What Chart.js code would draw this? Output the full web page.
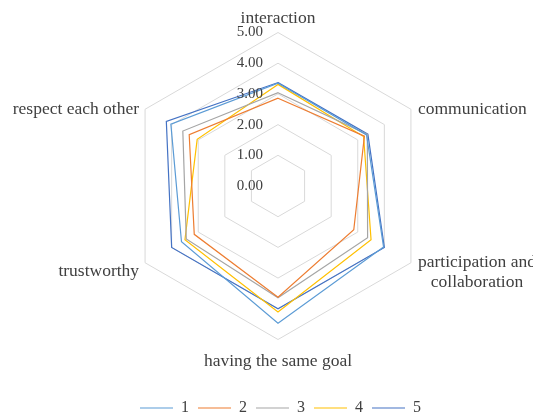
<!DOCTYPE html>
<html>
<head>
<meta charset="utf-8">
<script src="https://cdn.jsdelivr.net/npm/chart.js@4.4.0/dist/chart.umd.min.js"></script>
<style>
  html, body { margin: 0; padding: 0; background: #fff; }
</style>
</head>
<body>
<canvas id="myChart" width="533" height="416"></canvas>
<script>
// categories (axes of the radar)
var categories = ['interaction', 'communication', ['participation and', 'collaboration'], 'having the same goal', 'trustworthy', 'respect each other'];

// series values
var series1 = [3.35, 3.33, 3.97, 4.47, 3.63, 4.03];
var series2 = [2.86, 3.25, 2.85, 3.62, 3.15, 3.34];
var series3 = [3.04, 3.36, 3.37, 3.64, 3.45, 3.58];
var series4 = [3.31, 3.22, 3.50, 4.10, 3.50, 3.04];
var series5 = [3.37, 3.38, 4.00, 4.00, 4.00, 4.20];
var seriesNames = ['1', '2', '3', '4', '5'];

// tick labels
var tickValues = [0, 1, 2, 3, 4, 5];
var tickLabels = ['0.00', '1.00', '2.00', '3.00', '4.00', '5.00'];

var colors = ['#5B9BD5', '#ED7D31', '#A5A5A5', '#FFC000', '#4472C4'];
var textColor = '#404040';
var serif = '"Liberation Serif", "Times New Roman", serif';

// small nudges so the axis titles sit where the original puts them
var labelNudge = [0, 0, 0, 0, 9, 0];

var radarText = {
  id: 'radarText',
  afterDraw: function(chart) {
    var s = chart.scales.r;
    var ctx = chart.ctx;
    ctx.save();
    ctx.fillStyle = textColor;

    // value ticks, left of the vertical axis
    ctx.font = '15px ' + serif;
    ctx.textAlign = 'right';
    ctx.textBaseline = 'middle';
    tickValues.forEach(function(v, i) {
      var d = s.getDistanceFromCenterForValue(v);
      ctx.fillText(tickLabels[i], s.xCenter - 15, s.yCenter - d);
    });

    // category labels around the outside
    ctx.font = '17.5px ' + serif;
    categories.forEach(function(lab, i) {
      var p = s.getPointPosition(i, s.drawingArea);
      var lines = Array.isArray(lab) ? lab : [lab];
      var dx = p.x - s.xCenter, dy = p.y - s.yCenter;
      var y = p.y + labelNudge[i];
      if (Math.abs(dx) < 1) {
        ctx.textAlign = 'center';
        if (dy < 0) {
          ctx.textBaseline = 'bottom';
          ctx.fillText(lines[0], p.x, y - 5);
        } else {
          ctx.textBaseline = 'top';
          ctx.fillText(lines[0], p.x, y + 13);
        }
      } else {
        ctx.textBaseline = 'middle';
        var w = 0;
        lines.forEach(function(l) { w = Math.max(w, ctx.measureText(l).width); });
        var left = dx > 0 ? p.x + 7 : p.x - 6 - w;
        ctx.textAlign = 'center';
        lines.forEach(function(l, k) {
          ctx.fillText(l, left + w / 2, y + k * 20);
        });
      }
    });
    ctx.restore();
  }
};

var allSeries = [series1, series2, series3, series4, series5];
var datasets = allSeries.map(function(vals, i) {
  return {
    label: seriesNames[i],
    data: vals,
    borderColor: colors[i],
    backgroundColor: colors[i],
    borderWidth: 1.2,
    pointRadius: 0,
    fill: false,
    tension: 0
  };
});

var ctx = document.getElementById('myChart').getContext('2d');
var myChart = new Chart(ctx, {
  type: 'radar',
  data: {
    labels: categories,
    datasets: datasets
  },
  options: {
    responsive: false,
    animation: false,
    layout: { padding: { left: 28, bottom: -10 } },
    plugins: {
      legend: {
        position: 'bottom',
        labels: {
          usePointStyle: true,
          pointStyle: 'line',
          pointStyleWidth: 33,
          color: textColor,
          font: { family: serif, size: 16 },
          padding: 9
        }
      },
      tooltip: { enabled: false }
    },
    scales: {
      r: {
        min: 0,
        max: 5,
        ticks: { display: false, stepSize: 1 },
        pointLabels: { display: false },
        angleLines: { display: false },
        grid: { color: '#D9D9D9', lineWidth: 1, circular: false },
        afterFit: function(scale) {
          scale.xCenter = 278;
          scale.yCenter = 186;
          scale.drawingArea = 153.5;
        }
      }
    }
  },
  plugins: [radarText]
});
</script>
</body>
</html>
